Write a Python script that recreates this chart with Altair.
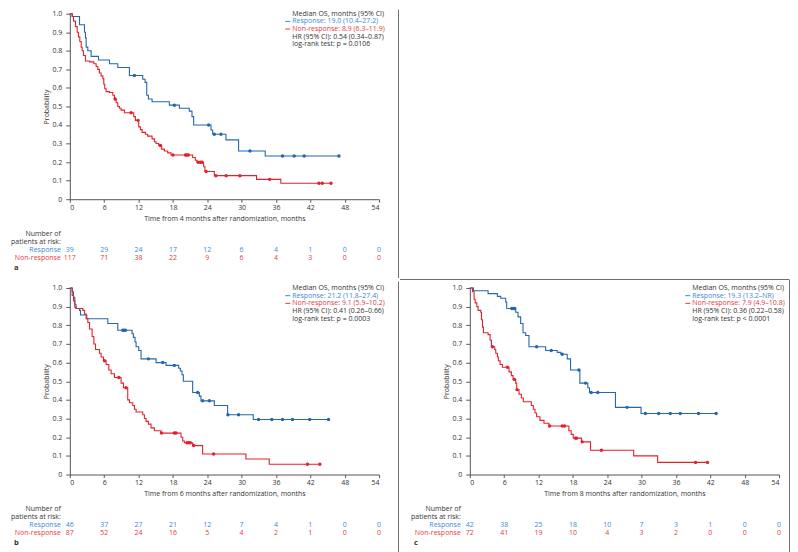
import altair as alt
import pandas as pd

FONT = "Open Sans"
FS = 7
BLUE_LINE = "#2467ad"
RED_LINE = "#e3212b"
BLUE_TXT = "#3b8bd3"
RED_TXT = "#e8383d"
DARK = "#333333"
FRAME = "#6e6e6e"
GROUPS = ["Response", "Non-response"]
X_TICKS = list(range(0, 55, 6))
Y_TICKS = [round(i * 0.1, 1) for i in range(11)]

# ---------------- panel a ----------------
A_R_T = [0, 0.41, 1.69, 2.56, 2.73, 2.85, 3.14, 3.72, 5.0, 6.92, 8.37, 10.4, 12.73, 13.14, 13.43, 13.72, 14.36,
         17.38, 19.13, 20.87, 21.33, 21.62, 24.65, 24.94, 27.26, 29.47, 34.12]
A_R_S = [1.0, 0.985, 0.94, 0.90, 0.87, 0.82, 0.80, 0.77, 0.75, 0.73, 0.71, 0.667, 0.647, 0.63, 0.56, 0.54, 0.525,
         0.507, 0.49, 0.475, 0.445, 0.40, 0.373, 0.35, 0.32, 0.26, 0.233]
A_R_C = [11.28, 18.25, 24.24, 25.23, 26.39, 31.45, 37.14, 39.18, 40.92, 47.0]
A_N_T = [0, 0.41, 0.64, 0.99, 1.28, 1.51, 1.74, 1.98, 2.15, 2.38, 2.73, 3.43, 4.19, 4.59, 4.88, 5.17, 5.46, 5.76,
         5.93, 6.10, 6.34, 6.92, 7.50, 7.79, 8.08, 8.37, 8.66, 8.95, 9.53, 11.16, 11.45, 12.03, 12.32, 12.61, 13.20,
         13.60, 14.36, 14.77, 15.06, 15.52, 16.04, 16.51, 17.09, 17.67, 21.45, 21.92, 22.21, 23.37, 23.60, 25.23,
         32.61, 36.85]
A_N_S = [1.0, 0.985, 0.96, 0.93, 0.90, 0.875, 0.85, 0.82, 0.80, 0.775, 0.745, 0.74, 0.73, 0.715, 0.70, 0.68, 0.665,
         0.65, 0.62, 0.595, 0.58, 0.575, 0.56, 0.54, 0.52, 0.50, 0.49, 0.48, 0.466, 0.445, 0.425, 0.39, 0.375, 0.36,
         0.35, 0.34, 0.325, 0.31, 0.30, 0.29, 0.27, 0.26, 0.25, 0.238, 0.225, 0.21, 0.199, 0.175, 0.149, 0.127,
         0.107, 0.086]
A_N_C = [7.9, 10.7, 11.9, 15.8, 18.0, 20.2, 20.4, 20.7, 22.4, 22.8, 23.1, 23.8, 25.5, 27.3, 29.7, 34.9, 43.5,
         44.1, 45.6]
A_RISK_R = [39, 29, 24, 17, 12, 6, 4, 1, 0, 0]
A_RISK_N = [117, 71, 38, 22, 9, 6, 4, 3, 0, 0]
A_LEG = ["Median OS, months (95% CI)", "Response: 19.0 (10.4\u201327.2)", "Non-response: 8.9 (6.3\u201311.9)",
         "HR (95% CI): 0.54 (0.34\u20130.87)", "log-rank test: p = 0.0106"]
A_XTITLE = "Time from 4 months after randomization, months"

# ---------------- panel b ----------------
B_R_T = [0, 0.41, 0.64, 0.87, 1.10, 1.69, 1.86, 2.96, 6.63, 8.37, 10.87, 11.10, 11.39, 11.57, 12.03, 12.44, 15.06,
         16.80, 19.01, 19.30, 19.59, 19.82, 21.45, 22.61, 22.90, 25.23, 27.55, 32.03]
B_R_S = [1.0, 0.98, 0.95, 0.91, 0.89, 0.88, 0.855, 0.835, 0.81, 0.773, 0.755, 0.735, 0.71, 0.685, 0.665, 0.62, 0.60,
         0.585, 0.57, 0.555, 0.535, 0.50, 0.44, 0.42, 0.395, 0.37, 0.32, 0.295]
B_R_C = [9.24, 9.42, 9.71, 13.72, 16.22, 18.25, 22.32, 23.19, 24.36, 27.6, 29.47, 32.96, 35.28, 37.14, 38.89, 41.9,
         45.17]
B_N_T = [0, 0.41, 0.64, 0.87, 1.10, 2.27, 2.56, 2.85, 3.14, 3.43, 3.89, 4.19, 4.48, 5.17, 5.46, 5.87, 6.34, 6.80,
         7.21, 7.79, 8.95, 9.36, 10.11, 10.41, 10.99, 11.28, 11.57, 12.73, 13.02, 13.31, 13.72, 14.18, 14.77, 15.93,
         19.42, 19.71, 20.0, 21.45, 23.19, 30.75, 34.82]
B_N_S = [1.0, 0.96, 0.93, 0.895, 0.89, 0.88, 0.86, 0.835, 0.815, 0.78, 0.74, 0.70, 0.67, 0.65, 0.63, 0.61, 0.59,
         0.56, 0.54, 0.52, 0.49, 0.465, 0.40, 0.385, 0.37, 0.35, 0.335, 0.32, 0.30, 0.285, 0.27, 0.25, 0.235, 0.222,
         0.20, 0.18, 0.17, 0.155, 0.11, 0.083, 0.055]
B_N_C = [6.05, 8.55, 9.82, 16.0, 18.25, 18.54, 20.46, 20.75, 21.04, 21.62, 25.11, 41.5, 43.66]
B_RISK_R = [46, 37, 27, 21, 12, 7, 4, 1, 0, 0]
B_RISK_N = [87, 52, 24, 16, 5, 4, 2, 1, 0, 0]
B_LEG = ["Median OS, months (95% CI)", "Response: 21.2 (11.8\u201327.4)", "Non-response: 9.1 (5.9\u201310.2)",
         "HR (95% CI): 0.41 (0.26\u20130.66)", "log-rank test: p = 0.0003"]
B_XTITLE = "Time from 6 months after randomization, months"

# ---------------- panel c ----------------
C_R_T = [0, 0.64, 3.19, 4.82, 5.40, 6.27, 6.44, 8.01, 8.42, 8.88, 9.29, 9.75, 10.33, 13.24, 15.27, 15.9, 17.01,
         17.59, 19.22, 20.61, 20.90, 25.43, 29.90]
C_R_S = [1.0, 0.985, 0.97, 0.955, 0.945, 0.925, 0.89, 0.87, 0.845, 0.81, 0.76, 0.745, 0.685, 0.665, 0.655, 0.645,
         0.62, 0.56, 0.49, 0.465, 0.44, 0.36, 0.327]
C_R_C = [7.32, 7.55, 7.84, 11.67, 14.22, 16.14, 19.04, 20.2, 21.19, 22.35, 27.46, 30.66, 32.98, 35.01, 36.75,
         39.94, 43.02]
C_N_T = [0, 0.46, 0.75, 0.93, 1.22, 1.45, 1.92, 2.03, 2.21, 2.38, 3.19, 3.54, 3.77, 4.35, 4.53, 4.82, 4.99, 5.28,
         5.69, 6.85, 7.26, 7.55, 8.01, 8.19, 8.59, 9.0, 9.35, 10.74, 11.09, 11.38, 11.67, 12.25, 12.95, 13.82, 17.30,
         17.71, 18.06, 19.51, 21.08, 28.62, 32.80]
C_N_S = [1.0, 0.98, 0.94, 0.92, 0.90, 0.88, 0.87, 0.83, 0.79, 0.76, 0.75, 0.72, 0.685, 0.67, 0.65, 0.63, 0.61, 0.59,
         0.575, 0.55, 0.53, 0.51, 0.49, 0.455, 0.43, 0.41, 0.39, 0.37, 0.35, 0.33, 0.31, 0.29, 0.275, 0.26, 0.235,
         0.215, 0.195, 0.175, 0.13, 0.10, 0.065]
C_N_C = [3.95, 6.56, 7.78, 8.25, 13.93, 16.14, 16.55, 18.46, 18.64, 19.62, 22.99, 39.42, 41.51]
C_RISK_R = [42, 38, 25, 18, 10, 7, 3, 1, 0, 0]
C_RISK_N = [72, 41, 19, 10, 4, 3, 2, 0, 0, 0]
C_LEG = ["Median OS, months (95% CI)", "Response: 19.3 (13.2\u2013NR)", "Non-response: 7.9 (4.9\u201310.8)",
         "HR (95% CI): 0.36 (0.22\u20130.58)", "log-rank test: p < 0.0001"]
C_XTITLE = "Time from 8 months after randomization, months"


def steps_df(times, surv, censors, group):
    end = max(max(censors), times[-1])
    return pd.DataFrame({"time": list(times) + [end], "surv": list(surv) + [surv[-1]], "group": group})


def censor_df(times, surv, censors, group):
    vals = []
    for c in censors:
        v = surv[0]
        for tt, ss in zip(times, surv):
            if tt <= c:
                v = ss
        vals.append(v)
    return pd.DataFrame({"time": censors, "surv": vals, "group": group})


def one(text):
    return pd.DataFrame({"txt": [text]})


def txt(text, x, y, color=DARK, align="left", weight="normal", size=FS):
    return alt.Chart(one(text)).mark_text(
        font=FONT, fontSize=size, color=color, align=align, baseline="middle", fontWeight=weight
    ).encode(text="txt:N", x=alt.value(x), y=alt.value(y))


def rule(color=FRAME, opacity=1.0, **enc):
    return alt.Chart(one("")).mark_rule(color=color, strokeWidth=1, opacity=opacity).encode(
        **{k: alt.value(v) for k, v in enc.items()})


def panel(rt, rs, rc, nt, ns, nc, risk_r, risk_n, leg, xtitle, letter, height, extra):
    xenc = alt.X("time:Q", scale=alt.Scale(domain=[0, 54], nice=False),
                 axis=alt.Axis(values=X_TICKS, format="d", title=xtitle, tickSize=3, labelPadding=1,
                               titlePadding=4))
    yenc = alt.Y("surv:Q", scale=alt.Scale(domain=[0, 1], nice=False),
                 axis=alt.Axis(values=Y_TICKS, title="Probability", tickSize=4, titlePadding=3, labelPadding=4,
                               labelExpr="datum.value == 0 ? '0' : format(datum.value, '.1f')"))
    cenc = alt.Color("group:N", scale=alt.Scale(domain=GROUPS, range=[BLUE_LINE, RED_LINE]), legend=None)

    lines = alt.Chart(pd.concat([steps_df(rt, rs, rc, "Response"), steps_df(nt, ns, nc, "Non-response")])
                      ).mark_line(interpolate="step-after", strokeWidth=1.1).encode(
        x=xenc, y=yenc, color=cenc, detail="group:N")
    pts = alt.Chart(pd.concat([censor_df(rt, rs, rc, "Response"), censor_df(nt, ns, nc, "Non-response")])
                    ).mark_point(filled=True, shape="circle", size=12, opacity=1).encode(
        x=xenc, y=yenc, color=cenc)

    layers = [lines, pts]
    # legend block
    lx = 223
    ly = [0, 7.7, 15.4, 23.1, 30.8]
    layers.append(txt(leg[0], lx, ly[0]))
    layers.append(rule(color=BLUE_TXT, x=lx - 7, x2=lx - 2, y=ly[1]))
    layers.append(txt(leg[1], lx, ly[1], color=BLUE_TXT))
    layers.append(rule(color=RED_TXT, x=lx - 7, x2=lx - 2, y=ly[2]))
    layers.append(txt(leg[2], lx, ly[2], color=RED_TXT))
    layers.append(txt(leg[3], lx, ly[3]))
    layers.append(txt(leg[4], lx, ly[4]))

    # risk table
    ry = [height + 35, height + 43, height + 51, height + 59]
    layers.append(txt("Number of", -9, ry[0], align="right"))
    layers.append(txt("patients at risk:", -9, ry[1], align="right"))
    layers.append(txt("Response", -9, ry[2], color=BLUE_TXT, align="right"))
    layers.append(txt("Non-response", -9, ry[3], color=RED_TXT, align="right"))
    for vals, col, yy in [(risk_r, BLUE_TXT, ry[2]), (risk_n, RED_TXT, ry[3])]:
        df = pd.DataFrame({"time": X_TICKS, "n": [str(v) for v in vals]})
        layers.append(alt.Chart(df).mark_text(font=FONT, fontSize=FS, color=col, baseline="middle").encode(
            x=xenc, y=alt.value(yy), text="n:N"))
    layers.append(txt(letter, -56, height + 69, weight="bold", size=7.5))
    # left anchor (invisible)
    layers.append(rule(opacity=0, x=-62, y=100, y2=101))
    layers.extend(extra)
    return alt.layer(*layers).properties(width=310, height=height)


pa = panel(A_R_T, A_R_S, A_R_C, A_N_T, A_N_S, A_N_C, A_RISK_R, A_RISK_N, A_LEG, A_XTITLE, "a", 186,
           [rule(x=329.5, y=-4, y2=265)])
pb = panel(B_R_T, B_R_S, B_R_C, B_N_T, B_N_S, B_N_C, B_RISK_R, B_RISK_N, B_LEG, B_XTITLE, "b", 187,
           [rule(x=329.5, y=-6.5, y2=267)])
pc = panel(C_R_T, C_R_S, C_R_C, C_N_T, C_N_S, C_N_C, C_RISK_R, C_RISK_N, C_LEG, C_XTITLE, "c", 187,
           [rule(x=-70, x2=320, y=-8.5), rule(x=320.5, y=-8.5, y2=265)])

chart = alt.vconcat(pa, alt.hconcat(pb, pc, spacing=0), spacing=0).properties(
    padding={"left": 0, "top": 0, "right": 0, "bottom": 0}
).configure_view(stroke=None).configure_axis(
    labelFont=FONT, titleFont=FONT, labelFontSize=FS, titleFontSize=FS, titleFontWeight="normal",
    labelColor=DARK, titleColor=DARK, domainColor="#555555", tickColor="#555555", grid=False
)

chart.save("out.html", embed_options={"renderer": "svg", "actions": False})
